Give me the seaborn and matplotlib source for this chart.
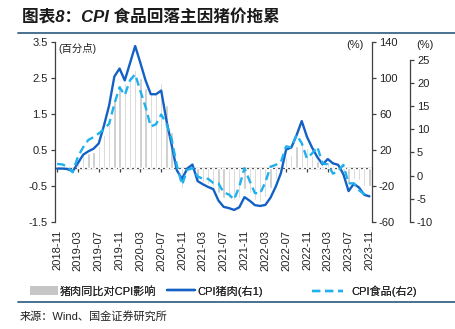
import numpy as np
import pandas as pd
import matplotlib
matplotlib.use("Agg")
import matplotlib.pyplot as plt
import seaborn as sns
from matplotlib.patches import Patch
from matplotlib.lines import Line2D

sns.set_theme(style="white")
plt.rcParams['font.family'] = ['Liberation Sans', 'Noto Sans CJK SC', 'DejaVu Sans']
plt.rcParams['axes.unicode_minus'] = False

months = pd.date_range("2018-11-01", "2023-11-01", freq="MS").strftime("%Y-%m").tolist()

pork_impact = [-0.02, -0.03, -0.08, -0.08, 0.1, 0.35, 0.4, 0.45, 0.6, 0.9, 1.2, 1.9,
               2.3, 2.35, 2.55, 2.7, 2.5, 2.2, 2.05, 2.05, 2.35, 1.75, 1.0, -0.05,
               -0.55, -0.05, 0.05, -0.35, -0.4, -0.45, -0.5, -0.7, -0.85, -0.85, -0.9, -0.85,
               -0.6, -0.7, -0.9, -0.95, -0.8, -0.55, -0.3, -0.1, 0.3, 0.35, 0.6, 0.75,
               0.55, 0.35, 0.2, 0.05, 0.15, 0.07, 0.05, -0.1, -0.45, -0.3, -0.35, -0.5, -0.5]

cpi_pork = [-1.0, -1.0, -1.5, -4.0, 5.1, 14.4, 18.2, 21.1, 27.0, 46.7, 69.3, 101.3,
            110.2, 97.0, 116.0, 135.2, 116.4, 96.9, 81.7, 81.6, 85.7, 52.6, 25.5, -2.8,
            -12.5, -1.0, 3.5, -14.9, -18.4, -21.4, -23.8, -36.5, -43.5, -44.9, -46.9, -44.0,
            -32.7, -36.7, -41.6, -42.5, -41.4, -33.3, -21.1, -6.0, 20.2, 22.4, 36.0, 51.8,
            34.4, 22.2, 11.8, 3.6, 9.6, 4.8, 3.2, -7.2, -26.0, -17.9, -22.0, -30.1, -31.8]

cpi_food = [2.5, 2.4, 1.9, 0.7, 4.1, 6.1, 7.7, 8.3, 9.1, 10.0, 11.2, 15.5,
            19.1, 17.4, 20.6, 21.9, 18.3, 14.8, 10.6, 11.1, 13.2, 11.2, 7.9, 2.2,
            -2.0, 1.2, 1.6, -0.2, -0.7, -0.7, -1.6, -1.7, -3.7, -4.1, -5.2, -2.4,
            1.6, -1.2, -3.8, -3.9, -1.5, 1.9, 2.3, 2.9, 6.3, 6.1, 8.8, 7.0,
            3.7, 4.8, 6.2, 2.6, 2.4, 0.4, 1.0, 2.3, -1.7, -1.7, -3.2, -4.0, -4.2]

tick_step = 4
left_ticks = [-1.5, -0.5, 0.5, 1.5, 2.5, 3.5]
right1_ticks = [-60, -20, 20, 60, 100, 140]
right2_ticks = [-10, -5, 0, 5, 10, 15, 20, 25]

title = "图表8：CPI 食品回落主因猪价拖累"
source = "来源：Wind、国金证券研究所"
legend_labels = ["猪肉同比对CPI影响", "CPI猪肉(右1)", "CPI食品(右2)"]

BAR = "#c6c6c6"
DARK = "#1461c6"
LIGHT = "#1fb0ee"
AX = "#404040"
DASH = (0, (3.5, 2))

df = pd.DataFrame({"month": months, "impact": pork_impact,
                   "pork": cpi_pork, "food": cpi_food})
df["idx"] = np.arange(len(df))

W, H = 455, 329
fig = plt.figure(figsize=(W / 100, H / 100), dpi=100)
L, R, T, B = 54.5, 372, 41.7, 221.7
ax = fig.add_axes([L / W, 1 - B / H, (R - L) / W, (B - T) / H])

sns.barplot(data=df, x="idx", y="impact", color=BAR, width=0.45, ax=ax,
            saturation=1, native_scale=True)
ax.set_xlim(-0.5, len(df) - 0.5)
ax.set_ylim(-1.5, 3.5)
ax.set_yticks(left_ticks)
ax.set_yticklabels([f"{v:g}" for v in left_ticks])
xt = list(range(0, len(df), tick_step))
ax.set_xticks(xt)
ax.set_xticklabels([months[i] for i in xt], rotation=90)
ax.set_xlabel("")
ax.set_ylabel("")
for s in ["top", "right", "bottom"]:
    ax.spines[s].set_visible(False)
ax.spines["left"].set_color(AX)
ax.spines["left"].set_linewidth(0.9)
ax.tick_params(axis="y", direction="out", length=3, width=0.9, color=AX,
               labelsize=8, pad=2, left=True, labelcolor="#222")
ax.tick_params(axis="x", length=0, labelsize=8, pad=6, labelcolor="#222")
ax.grid(False)

# zero line with ticks
zero_frac = (0 - (-1.5)) / 5.0
sec = ax.secondary_xaxis(zero_frac)
sec.set_xticks(xt)
sec.set_xticklabels([])
sec.tick_params(direction="out", length=3, width=0.9, color=AX)
sec.spines["bottom"].set_color(AX)
sec.spines["bottom"].set_linewidth(0.9)

# right axis 1: pork
ax2 = ax.twinx()
sns.lineplot(data=df, x="idx", y="pork", color=DARK, lw=1.7, ax=ax2)
ax2.set_ylim(-60, 140)
ax2.set_yticks(right1_ticks)
ax2.set_ylabel("")
for s in ["top", "left", "bottom"]:
    ax2.spines[s].set_visible(False)
ax2.spines["right"].set_color(AX)
ax2.spines["right"].set_linewidth(0.9)
ax2.tick_params(axis="y", direction="out", length=3, width=0.9, color=AX,
                labelsize=8, pad=2, right=True, labelcolor="#222")

# right axis 2: food
ax3 = ax.twinx()
sns.lineplot(data=df, x="idx", y="food", color=LIGHT, lw=1.7, ax=ax3,
             linestyle=DASH)
top2 = 25 + (60 - T) / ((B - 60) / 35)
ax3.set_ylim(-10, top2)
ax3.set_yticks(right2_ticks)
ax3.set_ylabel("")
ax3.spines["right"].set_position(("axes", (410 - L) / (R - L)))
ax3.spines["right"].set_bounds(-10, 25)
for s in ["top", "left", "bottom"]:
    ax3.spines[s].set_visible(False)
ax3.spines["right"].set_color(AX)
ax3.spines["right"].set_linewidth(0.9)
ax3.tick_params(axis="y", direction="out", length=3, width=0.9, color=AX,
                labelsize=8, pad=2, right=True, labelcolor="#222")
ax3.set_xlim(-0.5, len(df) - 0.5)
ax2.set_xlim(-0.5, len(df) - 0.5)

# unit labels
fig.text(58 / W, 1 - 48 / H, "(百分点)", fontsize=7.5, va="center", ha="left", color="#222")
fig.text(355 / W, 1 - 45 / H, "(%)", fontsize=8, va="center", ha="center", color="#222")
fig.text(425 / W, 1 - 45 / H, "(%)", fontsize=8, va="center", ha="center", color="#222")

# title and rules
fig.text(22 / W, 1 - 17 / H, title, fontsize=12, fontweight="bold", style="italic",
         va="center", ha="left", color="#1a1a1a")
fig.add_artist(Line2D([18 / W, 1], [1 - 33 / H] * 2, color="#3a6788", lw=1.3,
                      transform=fig.transFigure))
fig.add_artist(Line2D([18 / W, 1], [1 - 302 / H] * 2, color="#3a6788", lw=1.3,
                      transform=fig.transFigure))
fig.text(20 / W, 1 - 316 / H, source, fontsize=8, va="center", ha="left", color="#222")

for a in (ax, ax2, ax3):
    lg = a.get_legend()
    if lg is not None:
        lg.remove()

handles = [Patch(facecolor=BAR, edgecolor="none"),
           Line2D([], [], color=DARK, lw=1.7),
           Line2D([], [], color=LIGHT, lw=1.7, linestyle=DASH)]
starts = [30, 167, 312]
hlens = [2.5, 2.5, 2.8]
pads = [0.2, 0.25, 0.7]
for h, lab, x0, hl, tp in zip(handles, legend_labels, starts, hlens, pads):
    lg = fig.legend([h], [lab], loc="center left", bbox_to_anchor=(x0 / W, 1 - 291 / H),
                    frameon=False, fontsize=8, handlelength=hl, handletextpad=tp,
                    borderpad=0, borderaxespad=0, handleheight=0.9)
    fig.add_artist(lg)

fig.savefig("out.png", dpi=100)
